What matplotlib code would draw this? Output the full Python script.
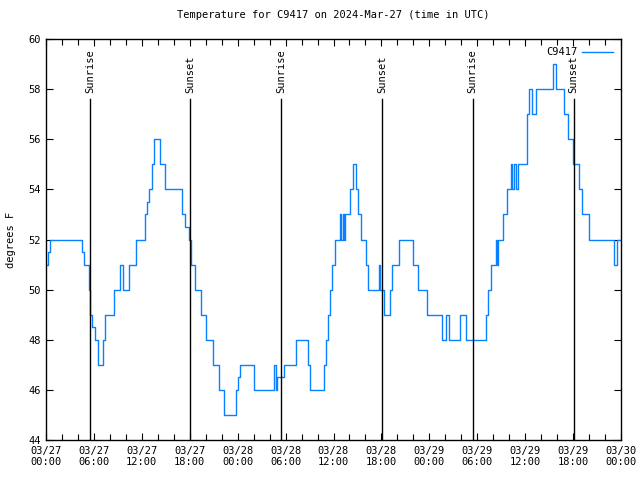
import matplotlib
matplotlib.use('Agg')
import matplotlib.pyplot as plt
import numpy as np

# hours since 2024-03-27 00:00 UTC, and temperature (F) starting at that hour
hours = [0.0, 0.25, 0.45, 4.55, 4.7, 5.42, 5.5, 5.7, 6.1, 6.45, 7.1, 7.4, 8.55,
         9.3, 9.65, 10.45, 11.3, 12.35, 12.6, 12.9, 13.25, 13.55, 14.3, 14.95,
         17.0, 17.45, 17.9, 18.1, 18.6, 19.4, 20.05, 20.95, 21.7, 22.35, 23.75,
         24.0, 24.35, 26.1, 28.55, 28.8, 28.95, 29.8, 31.3, 32.8, 33.0, 34.8,
         35.1, 35.3, 35.55, 35.75, 36.2, 36.85, 37.0, 37.15, 37.3, 37.5, 38.1,
         38.45, 38.85, 39.1, 39.45, 40.05, 40.3, 41.65, 41.8, 42.35, 43.05,
         43.35, 44.2, 46.0, 46.6, 47.7, 49.6, 50.1, 50.45, 51.85, 52.65, 55.05,
         55.35, 55.7, 56.3, 56.5, 56.65, 57.2, 57.7, 58.2, 58.4, 58.6, 58.85,
         59.1, 60.25, 60.45, 60.9, 61.4, 61.7, 63.45, 63.8, 64.8, 65.35, 65.95,
         66.7, 67.1, 68.0, 71.1, 71.5, 72.0]
temps = [51, 51.5, 52, 51.5, 51, 50, 49, 48.5, 48, 47, 48, 49, 50,
         51, 50, 51, 52, 53, 53.5, 54, 55, 56, 55, 54,
         53, 52.5, 52, 51, 50, 49, 48, 47, 46, 45, 46,
         46.5, 47, 46, 47, 46, 46.5, 47, 48, 47, 46, 47,
         48, 49, 50, 51, 52, 53, 52, 53, 52, 53, 54,
         55, 54, 53, 52, 51, 50, 51, 50, 49, 50,
         51, 52, 51, 50, 49, 48, 49, 48, 49, 48, 49,
         50, 51, 52, 51, 52, 53, 54, 55, 54, 55, 54,
         55, 57, 58, 57, 58, 58, 59, 58, 57, 56, 55,
         54, 53, 52, 51, 52, 52]

sun_hours = [5.48, 18.03, 29.45, 42.05, 53.42, 66.07]
sun_labels = ['Sunrise', 'Sunset', 'Sunrise', 'Sunset', 'Sunrise', 'Sunset']

xtick_hours = list(range(0, 73, 6))
xtick_labels = ['03/27\n00:00', '03/27\n06:00', '03/27\n12:00', '03/27\n18:00',
                '03/28\n00:00', '03/28\n06:00', '03/28\n12:00', '03/28\n18:00',
                '03/29\n00:00', '03/29\n06:00', '03/29\n12:00', '03/29\n18:00',
                '03/30\n00:00']

mono = 'DejaVu Sans Mono'

fig = plt.figure(figsize=(6.4, 4.8), dpi=100)
ax = fig.add_axes([46 / 640, 1 - 440 / 480, 575 / 640, 401 / 480])

ax.plot(hours, temps, drawstyle='steps-post', color='#0a80ff', lw=1.0, label='C9417')

for h, lab in zip(sun_hours, sun_labels):
    ax.plot([h, h], [44, 57.6], color='black', lw=1.0)
    ax.text(h, 57.85, lab, rotation=90, ha='center', va='bottom',
            fontsize=7.5, family=mono)

ax.set_xlim(0, 72)
ax.set_ylim(44, 60)
ax.set_xticks(xtick_hours)
ax.set_xticklabels(xtick_labels, family=mono, fontsize=7.5)
ax.set_xticks(np.arange(0, 73, 2), minor=True)
ax.set_yticks(np.arange(44, 61, 2))
ax.set_yticklabels([str(v) for v in range(44, 61, 2)], family=mono, fontsize=7.5)

ax.tick_params(which='both', direction='in', top=True, right=True, width=0.8)
ax.tick_params(which='major', length=5, pad=4)
ax.tick_params(which='minor', length=4)
for s in ax.spines.values():
    s.set_linewidth(1.0)

ax.set_ylabel('degrees F', fontsize=7.5, family=mono)
ax.yaxis.set_label_coords(-30 / 575, 0.5)
ax.set_title('Temperature for C9417 on 2024-Mar-27 (time in UTC)',
             fontsize=7.5, family=mono, pad=15)

ax.legend(loc='upper right', frameon=False, markerfirst=False,
          prop={'family': mono, 'size': 7.5}, handlelength=2.9,
          borderaxespad=0.4, handletextpad=0.5)

fig.savefig('out.png', dpi=100)
